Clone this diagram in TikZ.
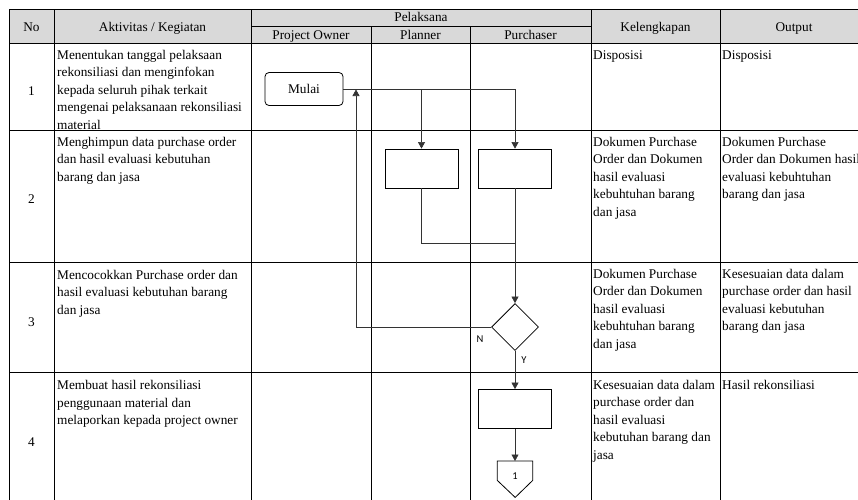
\documentclass[tikz,border=0pt]{standalone}
\usepackage{fontspec}
\setmainfont{Liberation Serif}
\newfontfamily\calibri{Carlito}
\usepackage{tikz}
\usetikzlibrary{shapes,shapes.geometric,arrows.meta}

\begin{document}
\begin{tikzpicture}[x=1pt,y=-1pt,
	grid/.style={draw=black,line width=0.9pt},
	head/.style={anchor=base,inner sep=0pt,font=\fontsize{13.3}{16}\selectfont},
	cell/.style={anchor=north west,align=left,inner sep=0pt,font=\fontsize{13.3}{17.5}\selectfont},
	start/.style={draw,rounded corners=4pt,line width=0.8pt,minimum width=78pt,minimum height=33pt,inner sep=0pt,font=\fontsize{13.3}{16}\selectfont},
	proc/.style={draw,line width=0.8pt,minimum width=73pt,minimum height=39pt,inner sep=0pt},
	decision/.style={draw,diamond,aspect=1,line width=0.8pt,minimum width=47pt,minimum height=47pt,inner sep=0pt},
	offpage/.style={minimum width=35pt,minimum height=19pt,inner sep=0pt,anchor=north},
	lbl/.style={inner sep=0pt,font=\calibri\fontsize{10.5}{12}\selectfont},
	flow/.style={draw=black!80,line width=0.6pt},
	arr/.style={flow,-{Triangle[length=6.5pt,width=7pt]}}]
	\useasboundingbox (0,0) rectangle (858,499);
	% table
	\fill[black!15] (9,9) rectangle (875,43);
	\draw[grid] (9,9) -- (875,9);
	\draw[grid] (251,26) -- (591,26);
	\draw[grid] (9,43) -- (875,43);
	\draw[grid] (9,130) -- (875,130);
	\draw[grid] (9,262) -- (875,262);
	\draw[grid] (9,372) -- (875,372);
	\draw[grid] (9,9) -- (9,510);
	\draw[grid] (54,9) -- (54,510);
	\draw[grid] (251,9) -- (251,510);
	\draw[grid] (371,26) -- (371,510);
	\draw[grid] (470,26) -- (470,510);
	\draw[grid] (591,9) -- (591,510);
	\draw[grid] (720,9) -- (720,510);
	\node[head] (hno) at (31.5,31.5) {No};
	\node[head] (hakt) at (152.5,31.5) {Aktivitas / Kegiatan};
	\node[head] (hpel) at (421,21.5) {Pelaksana};
	\node[head] (hpo) at (311,39.5) {Project Owner};
	\node[head] (hplan) at (420.5,39.5) {Planner};
	\node[head] (hpur) at (530.5,39.5) {Purchaser};
	\node[head] (hkel) at (655.5,31.5) {Kelengkapan};
	\node[head] (hout) at (794,31.5) {Output};
	\node[head] (no1) at (31.5,95) {1};
	\node[head] (no2) at (31.5,203) {2};
	\node[head] (no3) at (31.5,326) {3};
	\node[head] (no4) at (31.5,446.5) {4};
	\node[cell] (akt1) at (57,50) {Menentukan tanggal pelaksaan\\rekonsiliasi dan menginfokan\\kepada seluruh pihak terkait\\mengenai pelaksanaan rekonsiliasi\\material};
	\node[cell] (akt2) at (57,137) {Menghimpun data purchase order\\dan hasil evaluasi kebutuhan\\barang dan jasa};
	\node[cell] (akt3) at (57,270) {Mencocokkan Purchase order dan\\hasil evaluasi kebutuhan barang\\dan jasa};
	\node[cell] (akt4) at (57,380.5) {Membuat hasil rekonsiliasi\\penggunaan material dan\\melaporkan kepada project owner};
	\node[cell] (kel1) at (593,50) {Disposisi};
	\node[cell] (kel2) at (593,137) {Dokumen Purchase\\Order dan Dokumen\\hasil evaluasi\\kebuhtuhan barang\\dan jasa};
	\node[cell] (kel3) at (593,269) {Dokumen Purchase\\Order dan Dokumen\\hasil evaluasi\\kebuhtuhan barang\\dan jasa};
	\node[cell] (kel4) at (593,380) {Kesesuaian data dalam\\purchase order dan\\hasil evaluasi\\kebutuhan barang dan\\jasa};
	\node[cell] (out1) at (722,50) {Disposisi};
	\node[cell] (out2) at (722,137) {Dokumen Purchase\\Order dan Dokumen hasil\\evaluasi kebuhtuhan\\barang dan jasa};
	\node[cell] (out3) at (722,269) {Kesesuaian data dalam\\purchase order dan hasil\\evaluasi kebutuhan\\barang dan jasa};
	\node[cell] (out4) at (722,380) {Hasil rekonsiliasi};
	% flow
	\node[start] (mulai) at (304,89) {Mulai};
	\node[proc] (plan) at (421.5,168.5) {};
	\node[proc] (pur) at (515,168.5) {};
	\node[decision] (cek) at (515,327) {};
	\node[proc] (lapor) at (515,409) {};
	\node[offpage] (hal) at (515,461) {};
	\draw[line width=0.8pt] (hal.north west) -- (hal.north east) -- (hal.south east) -- ++(-17.5,17) -- (hal.south west) -- cycle;
	\node[lbl] (halno) at (515,476) {1};
	\node[lbl] (tidak) at (480,339) {N};
	\node[lbl] (ya) at (524,360) {Y};
	\coordinate (gabung) at (515,243);
	\coordinate (balik) at (356,89.5);
	\draw[arr] (mulai.east) -| (plan.north);
	\draw[arr] (mulai.east) -| (pur.north);
	\draw[flow] (plan.south) |- (gabung);
	\draw[arr] (pur.south) -- (cek.north);
	\draw[arr] (cek.west) -| (balik);
	\draw[arr] (cek.south) -- (lapor.north);
	\draw[arr] (lapor.south) -- (hal.north);
\end{tikzpicture}
\end{document}
